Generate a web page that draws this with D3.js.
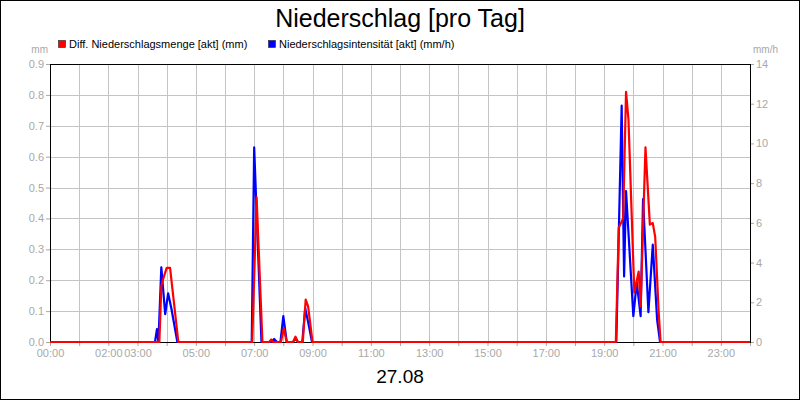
<!DOCTYPE html>
<html><head><meta charset="utf-8">
<script src="https://cdn.jsdelivr.net/npm/d3@7"></script>
<style>body{margin:0;background:#fff}svg{display:block;font-family:"Liberation Sans",Arial,sans-serif}</style>
</head><body><svg id="c" width="800" height="400"></svg>
<script>
const title = "Niederschlag [pro Tag]";
const dateLabel = "27.08";
const seriesNames = ["Diff. Niederschlagsmenge [akt] (mm)", "Niederschlagsintensität [akt] (mm/h)"];
const seriesColors = ["#ff0000", "#0000ff"];
const leftUnit = "mm", rightUnit = "mm/h";
const leftTicks = [0.0,0.1,0.2,0.3,0.4,0.5,0.6,0.7,0.8,0.9];
const rightTicks = [0,2,4,6,8,10,12,14];
const xTickHours = [0,2,3,5,7,9,11,13,15,17,19,21,23];
const xTickLabels = ["00:00","02:00","03:00","05:00","07:00","09:00","11:00","13:00","15:00","17:00","19:00","21:00","23:00"];

// Diff. Niederschlagsmenge (mm), left axis
const mengeTimes = ["00:00","03:45","03:49","03:52","04:00","04:07","04:24",
  "06:56","07:05","07:17","07:31","07:35","07:39","07:55","08:01","08:07","08:20","08:25","08:30","08:40","08:46","08:51","09:00",
  "19:24","19:30","19:39","19:45","19:50","20:02","20:11","20:15","20:25","20:34","20:40","20:45","20:52","20:56","24:00"];
const mengeValues = [0,0,0.18,0.20,0.24,0.24,0,
  0,0.468,0,0,0.008,0,0,0.044,0,0,0.017,0,0,0.137,0.115,0,
  0,0.37,0.40,0.81,0.72,0.16,0.228,0.115,0.63,0.38,0.385,0.34,0.10,0,0];

// Niederschlagsintensität (mm/h), right axis
const intensTimes = ["00:00","03:36","03:40","03:43","03:49","03:57","04:03","04:10","04:22",
  "06:55","07:00","07:15","07:35","07:41","07:47","07:54","08:00","08:07","08:20","08:25","08:30","08:39","08:45","08:51","08:59",
  "19:25","19:36","19:41","19:45","20:00","20:07","20:15","20:20","20:31","20:40","20:49","20:55","24:00"];
const intensValues = [0,0,0.65,0,3.76,1.4,2.45,1.65,0,
  0,9.8,0,0,0.15,0,0,1.3,0,0,0.2,0,0,1.7,1.0,0,
  0,11.9,3.3,7.6,1.3,3.0,1.3,7.2,1.5,4.9,1.1,0,0];

const toHours = s => { const [h,m] = s.split(":").map(Number); return h + m/60; };

const svg = d3.select("#c");
const L = 50, R = 750, T = 64, B = 342;
const gray = "#a8a8a8", grid = "#c4c4c4";

svg.append("rect").attr("x",0.5).attr("y",0.5).attr("width",799).attr("height",399)
  .attr("fill","#fff").attr("stroke","#000");

const x = d3.scaleLinear().domain([0,24]).range([L,R]);
const yL = d3.scaleLinear().domain([0,0.9]).range([B,T]);
const yR = d3.scaleLinear().domain([0,14]).range([B,T]);

// gridlines
const g = svg.append("g");
g.selectAll(".hg").data(leftTicks.slice(1,-1)).join("line")
  .attr("x1",L).attr("x2",R).attr("y1",d=>Math.round(yL(d))+0.5).attr("y2",d=>Math.round(yL(d))+0.5)
  .attr("stroke",grid);
g.selectAll(".vg").data(d3.range(1,24)).join("line")
  .attr("y1",T).attr("y2",B).attr("x1",d=>Math.round(x(d))+0.5).attr("x2",d=>Math.round(x(d))+0.5)
  .attr("stroke",grid);

// axes
const axL = d3.axisLeft(yL).tickValues(leftTicks).tickFormat(d3.format(".1f")).tickSize(4).tickPadding(2);
const axR = d3.axisRight(yR).tickValues(rightTicks).tickFormat(d3.format("d")).tickSize(4).tickPadding(2);
const axB = d3.axisBottom(x).tickValues(d3.range(0,25)).tickFormat(d=>{const i=xTickHours.indexOf(d);return i<0?"":xTickLabels[i];}).tickSize(4).tickPadding(3);
function styleAx(sel){
  sel.select(".domain").remove();
  sel.selectAll(".tick line").attr("stroke",gray);
  sel.selectAll(".tick text").attr("fill",gray).style("font-size","11px").style("font-family","'Liberation Sans',Arial,sans-serif");
}
svg.append("g").attr("transform",`translate(${L},0)`).call(axL).call(styleAx);
svg.append("g").attr("transform",`translate(${R},0)`).call(axR).call(styleAx);
svg.append("g").attr("transform",`translate(0,${B})`).call(axB).call(styleAx);

// plot frame
svg.append("rect").attr("x",L+0.5).attr("y",T+0.5).attr("width",R-L).attr("height",B-T)
  .attr("fill","none").attr("stroke","#000");

// lines
const lineR = d3.line().x(d=>x(d[0])).y(d=>yR(d[1]));
const lineL = d3.line().x(d=>x(d[0])).y(d=>yL(d[1]));
const intens = intensTimes.map((t,i)=>[toHours(t), intensValues[i]]);
const menge = mengeTimes.map((t,i)=>[toHours(t), mengeValues[i]]);
svg.append("path").datum(intens).attr("d",lineR).attr("fill","none").attr("stroke",seriesColors[1]).attr("stroke-width",2.2).attr("stroke-linejoin","round");
svg.append("path").datum(menge).attr("d",lineL).attr("fill","none").attr("stroke",seriesColors[0]).attr("stroke-width",2.2).attr("stroke-linejoin","round");

// title & labels
svg.append("text").attr("x",400).attr("y",27).attr("text-anchor","middle").style("font-size","25px").attr("fill","#000").text(title);
svg.append("text").attr("x",400).attr("y",383).attr("text-anchor","middle").style("font-size","19px").attr("fill","#000").text(dateLabel);
svg.append("text").attr("x",48).attr("y",53).attr("text-anchor","end").style("font-size","10px").attr("fill",gray).text(leftUnit);
svg.append("text").attr("x",753).attr("y",53).style("font-size","10px").attr("fill",gray).text(rightUnit);

// legend
const legX = [58, 268];
seriesNames.forEach((n,i)=>{
  svg.append("rect").attr("x",legX[i]+0.5).attr("y",40.5).attr("width",7).attr("height",7)
    .attr("fill",seriesColors[i]).attr("stroke","#222").attr("stroke-width",0.6);
  svg.append("text").attr("x",legX[i]+11).attr("y",48).style("font-size","11px").attr("fill","#000").text(n);
});
</script></body></html>
